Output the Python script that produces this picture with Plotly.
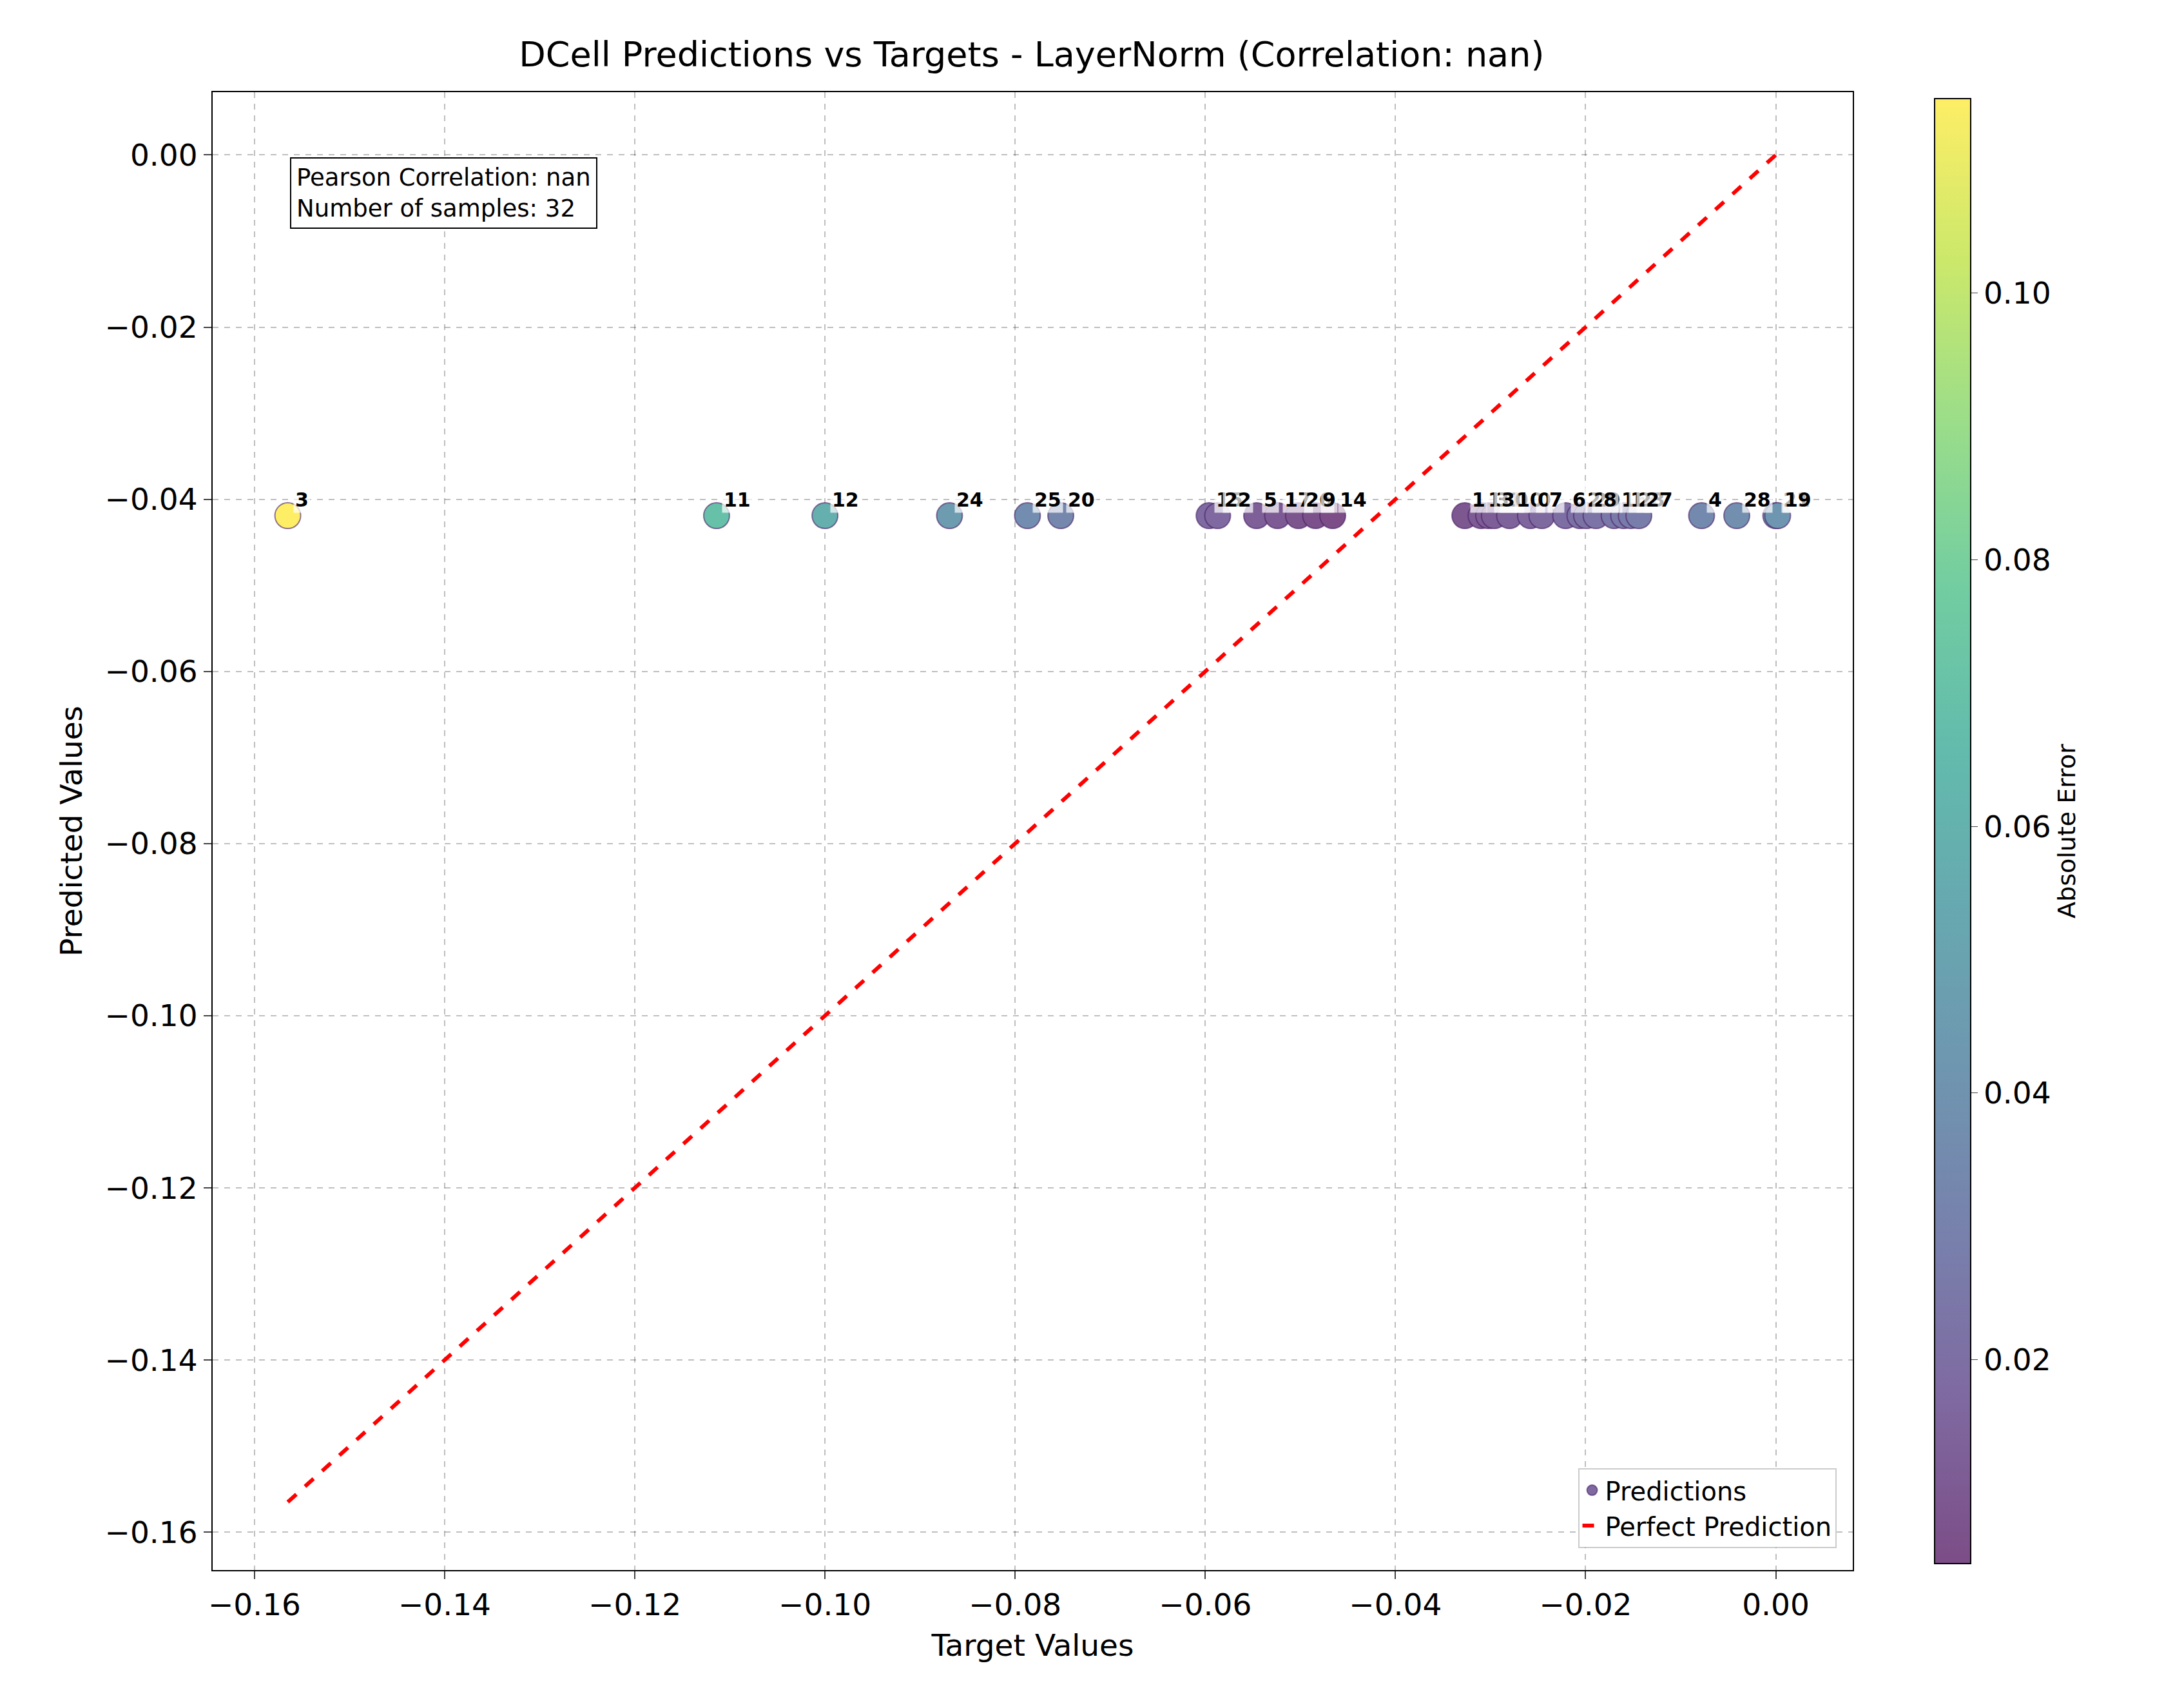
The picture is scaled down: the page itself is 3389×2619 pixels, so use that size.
import numpy as np
import plotly.graph_objects as go

# target values per sample index
sample_ids = [3, 11, 12, 24, 25, 20,
              15, 22, 5, 17, 26, 9, 14,
              1, 13, 31, 30, 10, 0, 7, 6, 2, 29, 8, 16, 18, 23, 27, 4,
              28, 21, 19]
targets = [-0.1565, -0.1114, -0.1000, -0.0869, -0.0787, -0.0752,
           -0.0596, -0.0587, -0.0546, -0.0524, -0.0502, -0.0484, -0.0466,
           -0.0327, -0.0310, -0.0302, -0.0296, -0.0280, -0.0258, -0.0246, -0.0221, -0.0206,
           -0.0199, -0.0189, -0.0170, -0.0160, -0.0152, -0.0144,
           -0.0078, -0.0041, 0.0000, 0.0002]
pred_value = -0.0419
preds = [pred_value] * len(targets)

targets = np.array(targets)
preds = np.array(preds)
abs_err = np.abs(targets - preds)

# viridis blended with white at alpha 0.7
viridis = ["#440154", "#482878", "#3e4989", "#31688e", "#26828e",
           "#1f9e89", "#35b779", "#6ece58", "#b5de2b", "#fde725"]
def fade(h, a=0.7):
    r, g, b = int(h[1:3], 16), int(h[3:5], 16), int(h[5:7], 16)
    return "rgb(%d,%d,%d)" % tuple(round(a * c + (1 - a) * 255) for c in (r, g, b))
cscale = [[i / (len(viridis) - 1), fade(c)] for i, c in enumerate(viridis)]

fs = 47
fig = go.Figure()

fig.add_trace(go.Scatter(
    x=targets, y=preds, mode="markers", name="Predictions", showlegend=False,
    marker=dict(size=40, color=abs_err, colorscale=cscale,
                line=dict(width=2, color="rgba(70,30,100,0.6)"),
                cmin=abs_err.min(), cmax=abs_err.max(),
                colorbar=dict(title=dict(text="Absolute Error", side="right", font=dict(size=38)),
                              x=1.05, xanchor="left", xpad=0, len=1.0, y=0.5, yanchor="middle",
                              thickness=56, outlinewidth=2, outlinecolor="black",
                              tickfont=dict(size=fs), ticks="outside", ticklen=10,
                              tickvals=[0.02, 0.04, 0.06, 0.08, 0.10],
                              tickformat=".2f")),
))
# legend entry for the scatter
fig.add_trace(go.Scatter(x=[None], y=[None], mode="markers", name="Predictions",
                         marker=dict(size=40, color=fade("#482878"),
                                     line=dict(width=2, color="rgba(70,30,100,0.6)"))))
lo, hi = targets.min(), targets.max()
fig.add_trace(go.Scatter(x=[lo, hi], y=[lo, hi], mode="lines", name="Perfect Prediction",
                         line=dict(color="red", width=6, dash="dash")))

for sid, t, p in zip(sample_ids, targets, preds):
    fig.add_annotation(x=t, y=p, text=f"<b>{sid}</b>", showarrow=False,
                       xanchor="left", yanchor="bottom", xshift=8, yshift=4,
                       font=dict(size=30, color="black"),
                       bgcolor="rgba(255,255,255,0.7)", borderpad=2)

fig.add_annotation(xref="paper", yref="paper", x=0.047, y=0.956, xanchor="left", yanchor="top",
                   text="Pearson Correlation: nan<br>Number of samples: 32", showarrow=False,
                   align="left", font=dict(size=37, color="black"),
                   bgcolor="white", bordercolor="black", borderwidth=2, borderpad=8)

axis_common = dict(showline=True, linecolor="black", linewidth=2, mirror=True,
                   ticks="outside", ticklen=12, tickwidth=2, tickfont=dict(size=fs),
                   showgrid=True, gridcolor="rgba(0,0,0,0.25)", griddash="dash", gridwidth=2,
                   zeroline=False, tickformat=".2f")
fig.update_xaxes(range=[-0.1644, 0.0081], dtick=0.02,
                 title=dict(text="Target Values", font=dict(size=fs), standoff=20), **axis_common)
fig.update_yaxes(range=[-0.1644, 0.0073], dtick=0.02,
                 title=dict(text="Predicted Values", font=dict(size=fs), standoff=20), **axis_common)

fig.update_layout(
    width=3389, height=2619, template="none",
    plot_bgcolor="white", paper_bgcolor="white",
    font=dict(family="DejaVu Sans", color="black"),
    title=dict(text="DCell Predictions vs Targets - LayerNorm (Correlation: nan)",
               x=0.47, xanchor="center", y=0.978, font=dict(size=54)),
    margin=dict(l=322, r=522, t=135, b=191),
    legend=dict(x=0.99, y=0.015, xanchor="right", yanchor="bottom", bgcolor="white",
                bordercolor="rgba(0,0,0,0.2)", borderwidth=2, font=dict(size=40)),
)

fig.write_html("out.html")
